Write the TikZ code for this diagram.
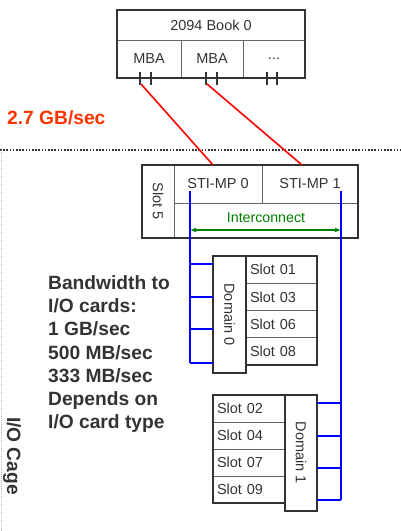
\documentclass[tikz,border=0pt]{standalone}
\usepackage{fontspec}
\setmainfont{Liberation Sans}
\usepackage{tikz}
\usetikzlibrary{positioning, arrows.meta, calc}
\definecolor{textogris}{RGB}{51,51,51}
\definecolor{bordegris}{RGB}{51,51,51}
\definecolor{lineagris}{RGB}{100,100,100}
\definecolor{naranja}{RGB}{255,51,0}
\definecolor{verdeic}{RGB}{0,128,0}
\tikzset{
  celda/.style={rectangle, draw=lineagris, line width=0.9pt, inner sep=0pt, outer sep=0pt, text=textogris, font=\fontsize{14.5}{17}\selectfont},
  slotcelda/.style={celda, minimum height=27.25pt, text width=63pt, inner xsep=4pt, align=left},
  rotulo/.style={celda, rotate=-90},
  dominio/.style={rotulo, draw=bordegris, line width=2pt},
  marco/.style={draw=bordegris, line width=2pt},
  pin/.style={bordegris, line width=1.5pt},
  enlace/.style={red, line width=1.6pt},
  bus/.style={blue, line width=2pt},
  flecha/.style={verdeic, line width=1.5pt, {Latex[length=6pt,width=5pt]}-{Latex[length=6pt,width=5pt]}},
  negrita/.style={font=\fontsize{19.2}{23.3}\selectfont\bfseries, text=textogris, inner sep=0pt}
}

\begin{document}
\begin{tikzpicture}[x=1pt, y=-1pt, >=latex]
    \useasboundingbox (0,0) rectangle (401,531);

    % 1. Libro 2094 con sus MBA
    \node[celda, minimum width=188pt, minimum height=30pt] (libro) at (211,25) {2094 Book 0};
    \node[celda, minimum width=64pt, minimum height=38pt, anchor=north west] (mba0) at (libro.south west) {MBA};
    \node[celda, minimum width=62pt, minimum height=38pt, right=0pt of mba0] (mba1) {MBA};
    \node[celda, minimum width=62pt, minimum height=38pt, right=0pt of mba1] (mbax) {...};
    \draw[marco] (libro.north west) rectangle (mbax.south east);

    % Pines bajo cada MBA
    \foreach \x in {140,151,206,217,267,277} {
        \draw[pin] (\x,72) -- (\x,85);
    }
    \coordinate (p0) at (141,84);
    \coordinate (p1) at (207,84);

    % 2. Velocidad del enlace y borde de la jaula
    \node[negrita, font=\fontsize{19.2}{23}\selectfont\bfseries, text=naranja, anchor=west] (tasa) at (7,118) {2.7 GB/sec};
    \draw[bordegris, line width=2pt, dash pattern=on 1.6pt off 1.6pt] (0,150) -- (401,150);
    \draw[gray!60, line width=0.6pt, dash pattern=on 1pt off 1pt] (1,150) -- (1,531);

    % 3. Tarjeta en Slot 5 (STI-MP)
    \node[rotulo, minimum width=73pt, minimum height=32pt] (slot5) at (158,201.5) {Slot 5};
    \node[celda, minimum width=88pt, minimum height=38pt, anchor=north west] (sti0) at (174,165) {STI-MP 0};
    \node[celda, minimum width=96pt, minimum height=38pt, right=0pt of sti0] (sti1) {STI-MP 1};
    \node[celda, minimum width=184pt, minimum height=35pt, anchor=north west] (inter) at (sti0.south west) {};
    \node[text=verdeic, font=\fontsize{14.2}{17}\selectfont, inner sep=0pt] (intertxt) at ($(inter.center)+(0,-3)$) {Interconnect};
    \draw[marco] (142,165) rectangle (inter.south east);

    % Enlaces rojos MBA -> STI-MP
    \draw[enlace] (p0) -- ($(sti0.north)+(-5,0)$);
    \draw[enlace] (p1) -- ($(sti1.north)+(-8,0)$);

    % 4. Dominio 0
    \node[dominio, minimum width=117pt, minimum height=33pt] (dom0) at (229.5,314.5) {Domain 0};
    \foreach \s [count=\i] in {01,03,06,08} {
        \node[slotcelda, anchor=north west] (d0s\i) at (246,{256+27.25*(\i-1)}) {Slot \s};
    }
    \draw[marco] (d0s1.north west) rectangle (d0s4.south east);

    % 5. Dominio 1
    \foreach \s [count=\i] in {02,04,07,09} {
        \node[slotcelda, text width=64pt, anchor=north west] (d1s\i) at (213,{395+27*(\i-1)}) {Slot \s};
    }
    \draw[marco] (d1s1.north west) rectangle (d1s4.south east);
    \node[dominio, minimum width=116pt, minimum height=32pt] (dom1) at (301,453) {Domain 1};

    % 6. Buses azules y flecha de interconexion
    \coordinate (busL) at (190,191);
    \coordinate (busR) at (341,191);
    \coordinate (ic0) at (190,230);
    \coordinate (ic1) at (341,230);
    \draw[flecha] (ic0) -- (ic1);
    \foreach \y [count=\i] in {264,297,329,363} {
        \coordinate (b0\i) at (190,\y);
        \draw[bus] (b0\i) -- (b0\i -| dom0.south);
    }
    \foreach \y [count=\i] in {403,436,468,500} {
        \coordinate (b1\i) at (341,\y);
        \draw[bus] (b1\i) -- (b1\i -| dom1.north);
    }
    \draw[bus] (busL) -- (b04);
    \draw[bus] (busR) -- (b14);

    % 7. Textos
    \node[negrita, anchor=north west, align=left] (ancho) at (48,275) {Bandwidth to\\I/O cards:\\1 GB/sec\\500 MB/sec\\333 MB/sec\\Depends on\\I/O card type};
    \node[negrita, rotate=-90] (jaula) at (12,456) {I/O Cage};

\end{tikzpicture}
\end{document}
